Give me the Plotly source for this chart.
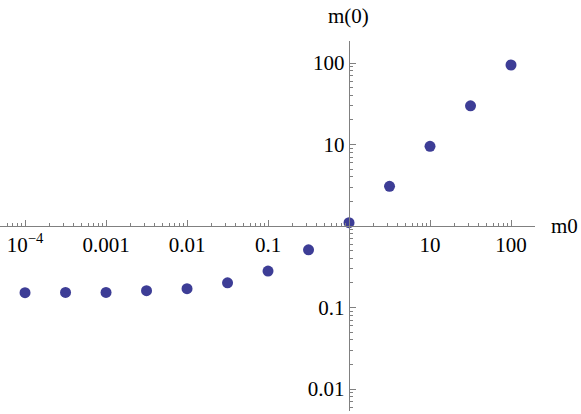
import plotly.graph_objects as go

# data
m0 = [1e-4, 10**-3.5, 1e-3, 10**-2.5, 1e-2, 10**-1.5, 0.1, 10**-0.5, 1, 10**0.5, 10, 10**1.5, 100]
m_zero = [0.152, 0.153, 0.153, 0.161, 0.170, 0.201, 0.28, 0.51, 1.1, 3.07, 9.5, 29.8, 94.5]

x_tickvals = [1e-4, 1e-3, 1e-2, 0.1, 10, 100]
x_ticktext = ["10<sup>\u22124</sup>", "0.001", "0.01", "0.1", "10", "100"]
y_tickvals = [0.01, 0.1, 10, 100]
y_ticktext = ["0.01", "0.1", "10", "100"]

AXIS = "#808080"
FONT = dict(family="Liberation Serif", size=21, color="black")

def minor_ticks(lo, hi):
    vals = []
    for e in range(lo, hi):
        for k in range(2, 10):
            vals.append(k * 10**e)
    return vals

fig = go.Figure(go.Scatter(
    x=m0, y=m_zero, mode="markers",
    marker=dict(color="rgb(61,61,150)", size=11),
))

fig.update_layout(
    width=581, height=414,
    margin=dict(l=0, r=46, t=41, b=3),
    plot_bgcolor="white", paper_bgcolor="white",
    showlegend=False,
    font=FONT,
    xaxis=dict(
        type="log", range=[-4.309, 2.296],
        anchor="free", position=0.5, automargin=False,
        showline=True, linecolor=AXIS, linewidth=1,
        showgrid=False, zeroline=False,
        ticks="inside", ticklen=6, tickcolor=AXIS,
        tickvals=x_tickvals, ticktext=x_ticktext,
        minor=dict(ticks="inside", ticklen=3, tickcolor=AXIS,
                   tickvals=minor_ticks(-5, 3), showgrid=False),
        tickfont=FONT,
    ),
    yaxis=dict(
        type="log", range=[-2.27, 2.27],
        anchor="free", position=0.652, automargin=False,
        showline=True, linecolor=AXIS, linewidth=1,
        showgrid=False, zeroline=False,
        ticks="inside", ticklen=6, tickcolor=AXIS,
        tickvals=y_tickvals, ticktext=y_ticktext,
        minor=dict(ticks="inside", ticklen=3, tickcolor=AXIS,
                   tickvals=minor_ticks(-3, 3), showgrid=False),
        tickfont=FONT,
    ),
    annotations=[
        dict(text="m(0)", xref="paper", yref="paper", x=0.652, y=1,
             yshift=11, xanchor="center", yanchor="bottom", showarrow=False, font=FONT),
        dict(text="m0", xref="paper", yref="paper", x=1, y=0.5,
             xshift=14, xanchor="left", yanchor="middle", showarrow=False, font=FONT),
    ],
)

# page body has a default 8px margin; remove it so the figure sits at the corner
fig.write_html("out.html", config={"displayModeBar": False},
               post_script="document.body.style.margin='0';")
